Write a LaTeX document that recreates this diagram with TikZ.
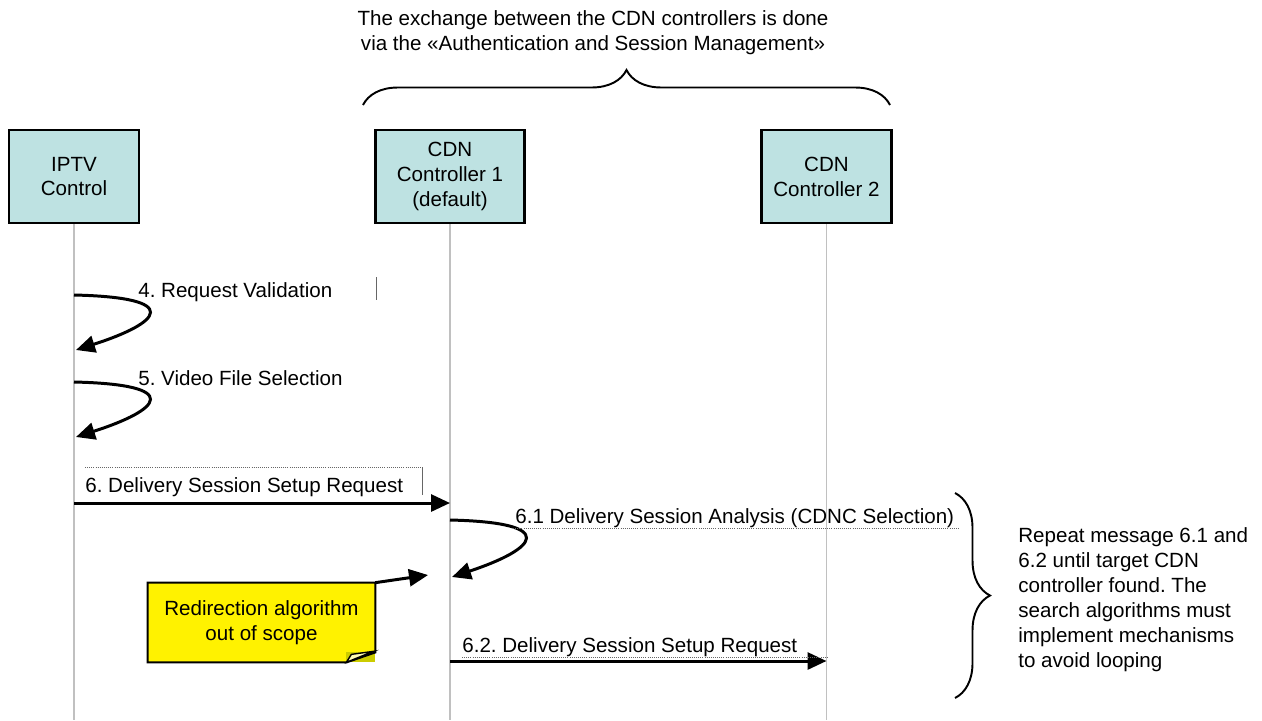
\documentclass[tikz,border=0pt]{standalone}
\usepackage{fontspec}
\setmainfont{Liberation Sans}
\usetikzlibrary{arrows.meta,positioning,decorations.pathreplacing}
\definecolor{boxcyan}{RGB}{190,226,226}
\definecolor{lifegray}{RGB}{192,192,192}
\definecolor{notefold}{RGB}{204,204,0}

\begin{document}
\frenchspacing
\begin{tikzpicture}[font=\fontsize{11.7}{14.2}\selectfont,
  actor/.style={rectangle,draw,line width=1.2pt,fill=boxcyan,minimum height=1.86cm,align=center},
  lifeline/.style={lifegray,line width=1.1pt},
  msg/.style={line width=1.7pt,-{Triangle[length=0.38cm,width=0.34cm]}},
  lbl/.style={anchor=base west,inner sep=0pt},
  labelframe/.style={black!60,very thin,densely dotted},
  bracket/.style={line width=1.1pt,decorate,decoration={brace,amplitude=0.7cm}}]
\useasboundingbox (0,0) rectangle (25.24,-14.4);

% Participants
\node[actor,minimum width=2.6cm] (iptv) at (1.48,-3.53) {IPTV\\Control};
\node[actor,minimum width=2.98cm] (cdn1) at (9.0,-3.53) {CDN\\Controller 1\\(default)};
\node[actor,minimum width=2.6cm] (cdn2) at (16.53,-3.53) {CDN\\Controller 2};

% Lifelines
\coordinate (iptvend) at (1.48,-14.4);
\coordinate (cdn1end) at (9.0,-14.4);
\coordinate (cdn2end) at (16.53,-14.4);
\draw[lifeline] (iptv) -- (iptvend);
\draw[lifeline] (cdn1) -- (cdn1end);
\draw[lifeline] (cdn2) -- (cdn2end);

% Exchange between controllers
\node[align=center] (caption) at (11.86,-0.65) {The exchange between the CDN controllers is done\\via the «Authentication and Session Management»};
\coordinate (bl) at (7.26,-2.1);
\coordinate (br) at (17.8,-2.1);
\draw[bracket] (bl) -- (br);

% Self messages on IPTV Control
\coordinate (s4) at (1.48,-5.9);
\coordinate (e4) at (1.52,-7.0);
\draw[msg] (s4) .. controls (3.68,-5.95) and (3.23,-6.45) .. (e4);
\node[lbl] (l4) at (2.76,-5.94) {4. Request Validation};
\draw[black!60,very thin] (7.52,-5.54) -- (7.52,-6.0);

\coordinate (s5) at (1.48,-7.64);
\coordinate (e5) at (1.52,-8.74);
\draw[msg] (s5) .. controls (3.68,-7.69) and (3.23,-8.19) .. (e5);
\node[lbl] (l5) at (2.76,-7.7) {5. Video File Selection};

% Setup request
\coordinate (s6) at (1.48,-10.06);
\coordinate (e6) at (9.0,-10.06);
\draw[msg] (s6) -- (e6);
\node[lbl] (l6) at (1.7,-9.84) {6. Delivery Session Setup Request};
\draw[labelframe] (1.7,-9.34) -- (8.44,-9.34);
\draw[black!60,very thin] (8.44,-9.34) -- (8.44,-9.9);

% Analysis on controller 1
\coordinate (s61) at (9.0,-10.4);
\coordinate (e61) at (9.04,-11.54);
\draw[msg] (s61) .. controls (11.2,-10.45) and (10.75,-10.97) .. (e61);
\node[lbl] (l61) at (10.3,-10.46) {6.1 Delivery Session Analysis (CDNC Selection)};
\draw[labelframe] (10.26,-10.56) -- (19.16,-10.56);

% Forwarded request
\coordinate (s62) at (9.0,-13.22);
\coordinate (e62) at (16.53,-13.22);
\draw[msg] (s62) -- (e62);
\node[lbl] (l62) at (9.24,-13.04) {6.2. Delivery Session Setup Request};
\draw[labelframe] (9.24,-13.14) -- (16.56,-13.14);

% Note
\node[fill=yellow,minimum width=4.54cm,minimum height=1.58cm,align=center] (note) at (5.23,-12.45) {Redirection algorithm\\out of scope};
\fill[notefold] ([xshift=-0.58cm]note.south east) rectangle ([yshift=0.2cm]note.south east);
\draw[line width=1.2pt] (note.north west) -- (note.north east) -- ([yshift=0.2cm]note.south east)
  -- ([xshift=-0.58cm]note.south east) -- (note.south west) -- cycle;
\draw[line width=0.8pt,fill=yellow!30] ([xshift=-0.58cm]note.south east) -- ([xshift=-0.48cm,yshift=0.16cm]note.south east)
  -- ([xshift=-0.04cm,yshift=0.22cm]note.south east) -- cycle;
\coordinate (notetip) at (8.56,-11.5);
\draw[msg] (note.north east) -- (notetip);

% Repeat remark
\coordinate (rt) at (19.1,-9.86);
\coordinate (rb) at (19.1,-13.96);
\draw[bracket] (rt) -- (rb);
\node[anchor=west,align=left,inner sep=0pt] (repeat) at (20.36,-12.0) {Repeat message 6.1 and\\6.2 until target CDN\\controller found. The\\search algorithms must\\implement mechanisms\\to avoid looping};
\end{tikzpicture}
\end{document}
